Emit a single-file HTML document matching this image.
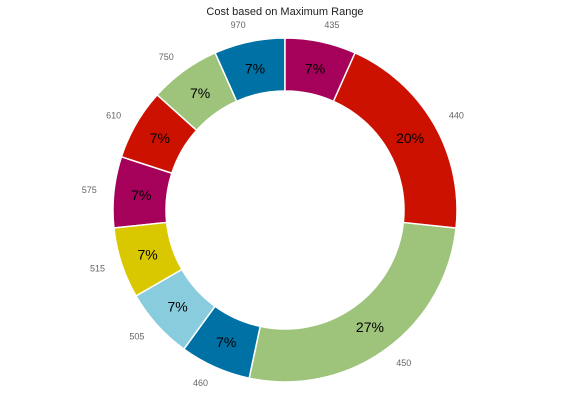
<!DOCTYPE html>
<html><head><meta charset="utf-8"><style>
html,body{margin:0;padding:0;background:#fff;}
svg{display:block;font-family:"Liberation Sans",sans-serif;}
</style></head><body>
<svg id="chart" width="572" height="408">
<text x="285" y="15" text-anchor="middle" font-size="11" fill="#222">Cost based on Maximum Range</text>
<g id="slices"></g>
<g id="labels"></g>
</svg>
<script>
const categories = ["970","750","610","575","515","505","460","450","440","435"];
const values = [1,1,1,1,1,1,1,4,3,1];
const colors = ["#0071A4","#9DC47A","#CC1100","#A5005A","#D9C700","#88CCDD","#0071A4","#9DC47A","#CC1100","#A5005A"];
const cx=285, cy=210, R=172, r=119;
const NS="http://www.w3.org/2000/svg";
const gS=document.getElementById('slices'), gL=document.getElementById('labels');
const total=values.reduce((a,b)=>a+b,0);
function pt(rad,deg){const a=deg*Math.PI/180;return [cx+rad*Math.cos(a), cy-rad*Math.sin(a)];}
let ang=90;
values.forEach((v,i)=>{
  const sweep=v/total*360, a0=ang, a1=ang+sweep, mid=ang+sweep/2;
  const large=sweep>180?1:0;
  const p0=pt(R,a0),p1=pt(R,a1),q1=pt(r,a1),q0=pt(r,a0);
  const d=`M${p0[0]},${p0[1]} A${R},${R} 0 ${large} 0 ${p1[0]},${p1[1]} L${q1[0]},${q1[1]} A${r},${r} 0 ${large} 1 ${q0[0]},${q0[1]} Z`;
  const path=document.createElementNS(NS,'path');
  path.setAttribute('d',d);path.setAttribute('fill',colors[i]);
  path.setAttribute('stroke','#fff');path.setAttribute('stroke-width','1.5');
  
  
  gS.appendChild(path);
  const lp=pt(R*1.1,mid);
  const t=document.createElementNS(NS,'text');
  t.setAttribute('x',lp[0]);t.setAttribute('y',lp[1]+3);
  t.setAttribute('font-size','9');t.setAttribute('fill','#666');
  t.setAttribute('text-anchor',Math.cos(mid*Math.PI/180)<0?'end':'start');
  t.textContent=categories[i];
  
  
  gL.appendChild(t);
  const pp=pt(R*0.84,mid);
  const t2=document.createElementNS(NS,'text');
  t2.setAttribute('x',pp[0]);t2.setAttribute('y',pp[1]+5);
  t2.setAttribute('font-size','14');t2.setAttribute('fill','#000');
  t2.setAttribute('text-anchor','middle');
  t2.textContent=Math.round(v/total*100)+'%';
  
  
  gL.appendChild(t2);
  ang=a1;
});
</script>
</body></html>
